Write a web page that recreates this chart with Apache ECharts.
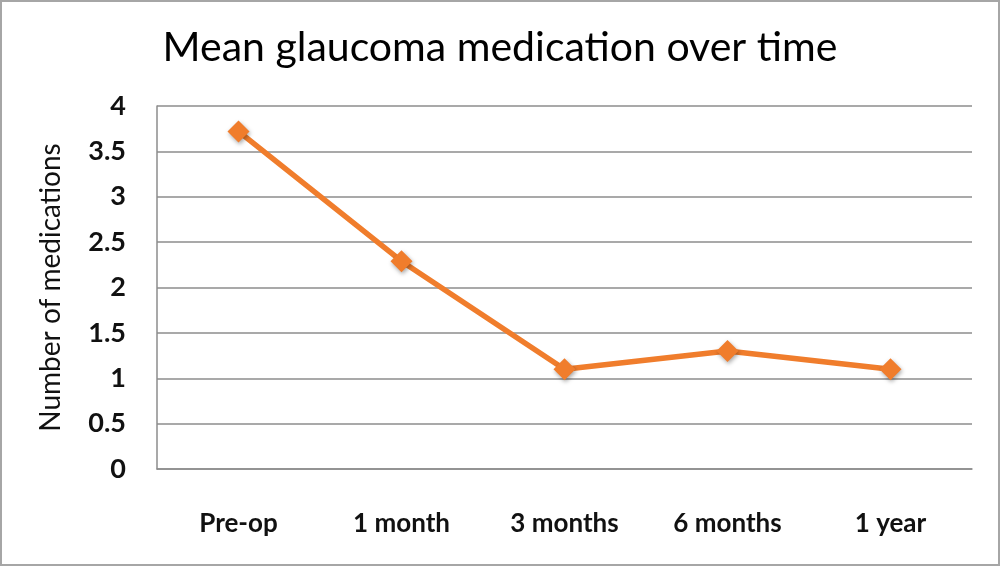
<!DOCTYPE html>
<html>
<head>
<meta charset="utf-8">
<script src="https://cdn.jsdelivr.net/npm/echarts@6/dist/echarts.min.js"></script>
<style>
  html, body { margin: 0; padding: 0; background: #fff; }
  #main { width: 1000px; height: 566px; box-sizing: border-box; border: 2px solid #a6a6a6; }
</style>
</head>
<body>
<div id="main"></div>
<script>
// categories and mean number of medications
var timePoints = ['Pre-op', '1 month', '3 months', '6 months', '1 year'];
var meanMeds = [3.72, 2.29, 1.1, 1.3, 1.1];

var myChart = echarts.init(document.getElementById('main'));

var option = {
    animation: false,
    title: {
        text: 'Mean glaucoma medication over time',
        left: 'center',
        top: 20,
        textStyle: { fontFamily: 'Lato', fontSize: 41, fontWeight: 'normal', color: '#000' }
    },
    grid: { left: 155, right: 26, top: 104, bottom: 95 },
    xAxis: {
        type: 'category',
        data: timePoints,
        axisLine: { lineStyle: { color: '#8c8c8c', width: 1.5 } },
        axisTick: { show: false },
        axisLabel: { margin: 42, fontFamily: 'Lato', fontSize: 26, fontWeight: 'bold', color: '#111' }
    },
    yAxis: {
        type: 'value',
        min: 0,
        max: 4,
        interval: 0.5,
        name: 'Number of medications',
        nameLocation: 'middle',
        nameGap: 92,
        nameTextStyle: { fontFamily: 'Lato', fontSize: 28, color: '#111' },
        axisLine: { show: true, lineStyle: { color: '#8c8c8c', width: 1.5 } },
        axisTick: { show: false },
        axisLabel: { margin: 31, fontFamily: 'Lato', fontSize: 27, fontWeight: 'bold', color: '#111' },
        splitLine: { lineStyle: { color: '#8c8c8c', width: 1.5 } }
    },
    series: [{
        type: 'line',
        data: meanMeds,
        symbol: 'diamond',
        symbolSize: 22,
        lineStyle: { color: '#f07d2c', width: 5.5 },
        itemStyle: {
            color: '#f07d2c',
            shadowColor: 'rgba(0,0,0,0.35)',
            shadowBlur: 4,
            shadowOffsetX: 1,
            shadowOffsetY: 2
        }
    }]
};

myChart.setOption(option);
</script>
</body>
</html>
